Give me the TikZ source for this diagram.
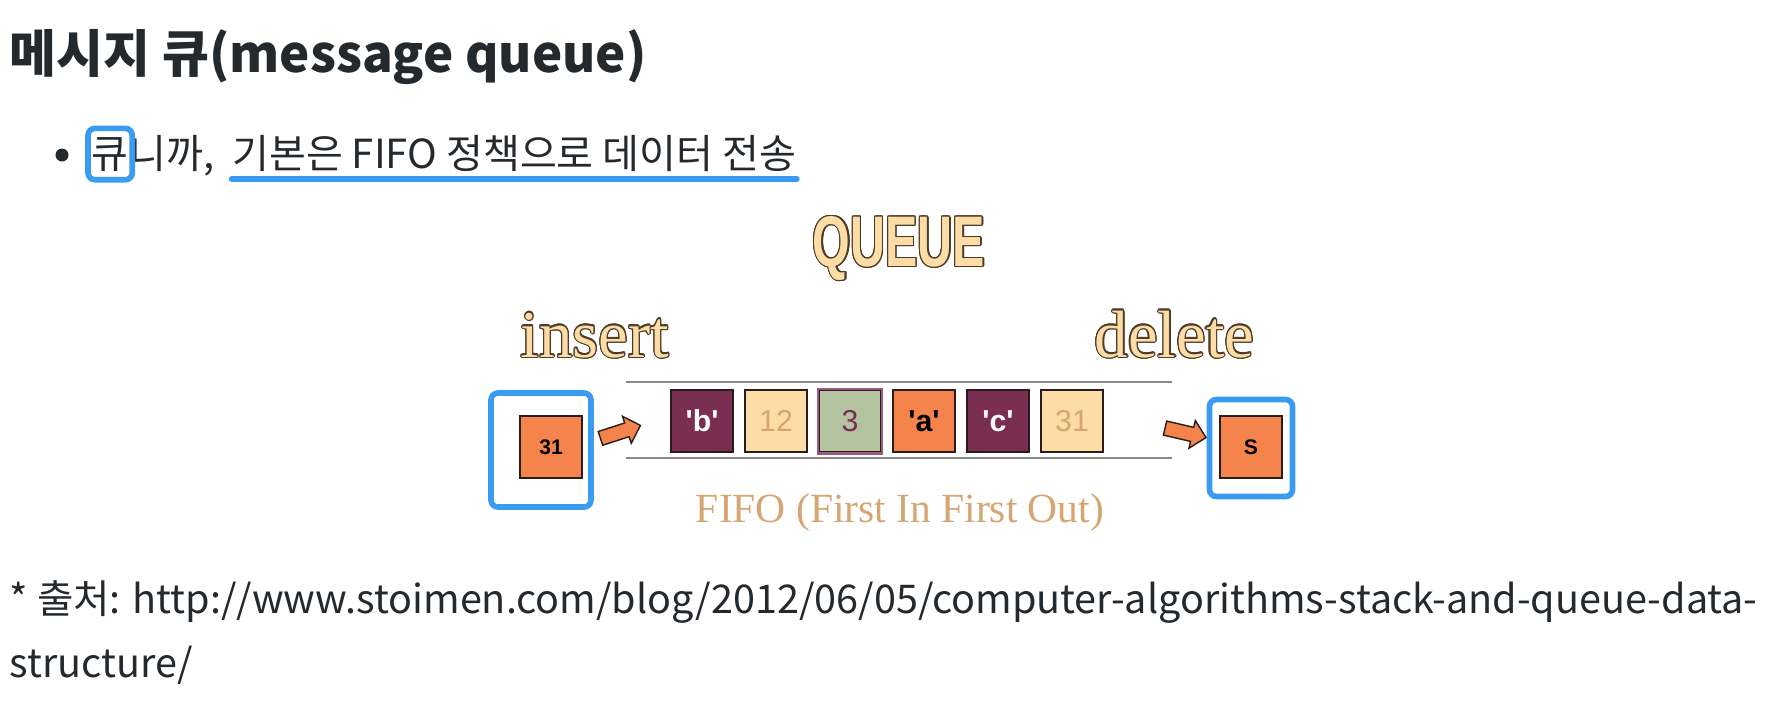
\documentclass[tikz,border=0pt]{standalone}
\usepackage{fontspec}
\setmainfont{Noto Sans CJK KR}
\newfontfamily\serifface{Liberation Serif}
\newfontfamily\cellface{Liberation Sans}
\usepackage{contour}
\usetikzlibrary{positioning,calc,fit,shapes.arrows}
\definecolor{cInk}{HTML}{24292E}
\definecolor{cBlue}{HTML}{3A9BF0}
\definecolor{cOrange}{HTML}{F4844C}
\definecolor{cMaroon}{HTML}{7A2E52}
\definecolor{cCream}{HTML}{FDDCA5}
\definecolor{cTan}{HTML}{D6A571}
\definecolor{cSage}{HTML}{B3C3A0}
\definecolor{cPlum}{HTML}{9C5B7C}
\definecolor{cEdge}{HTML}{2A1C1C}
\definecolor{cRail}{HTML}{8A8A8A}
\definecolor{cBrown}{HTML}{4E3B28}
\contourlength{0.35pt}
\tikzset{
  hilite/.style={draw=cBlue,line width=1.6pt,rounded corners=2pt},
  slot/.style={hilite,inner sep=0pt},
  cell/.style={draw=cEdge,line width=0.7pt,minimum width=0.62cm,minimum height=0.62cm,
              inner sep=0pt,font=\cellface\fontsize{8.6}{9}\selectfont},
  tiny/.style={cell,font=\cellface\bfseries\fontsize{6}{7}\selectfont},
  push/.style={single arrow,draw=cEdge,line width=0.4pt,fill=cOrange,inner xsep=0pt,
              inner ysep=0.065cm,minimum height=0.42cm,single arrow head extend=0.07cm},
  rail/.style={draw=cRail,line width=0.6pt},
  body/.style={anchor=base west,inner sep=0pt,text=cInk,font=\fontsize{11.4}{14}\selectfont},
  fancy/.style={anchor=base,inner sep=0pt,text=cCream,font=\serifface\fontsize{19}{22}\selectfont},
}

\begin{document}
\begin{tikzpicture}[x=0.01cm,y=-0.01cm]
  \useasboundingbox (0,0) rectangle (1776,714);
  % heading and bullet
  \node[body,font=\bfseries\fontsize{14.5}{18}\selectfont] (title) at (9,72) {메시지 큐(message queue)};
  \node[circle,fill=cInk,inner sep=0pt,minimum size=0.13cm] (dot) at (62,155) {};
  \node[body] (kyu) at (91,168) {큐};
  \node[body] (nikka) at (kyu.base east) {니까,};
  \node[body] (rest) at ([xshift=0.16cm]nikka.base east) {기본은 FIFO 정책으로 데이터 전송};
  \node[hilite,fit=(kyu),inner xsep=0.03cm,inner ysep=0.08cm] (kyubox) {};
  \draw[cBlue,line width=1.6pt,line cap=round] ($(rest.base west)+(0,11)$) -- ($(rest.base east)+(0,11)$);
  % the queue picture
  \node[inner sep=0pt,text=cCream] (queue) at (899,249)
    {\contour{cBrown}{\resizebox{1.72cm}{0.5cm}{\cellface\bfseries QUEUE}}};
  \node[fancy,anchor=base west] (ins) at (520,357) {\contour{cBrown}{insert}};
  \node[fancy,anchor=base east] (del) at (1255,357) {\contour{cBrown}{delete}};
  \coordinate (railTL) at (626,382); \coordinate (railTR) at (1172,382);
  \coordinate (railBL) at (626,458); \coordinate (railBR) at (1172,458);
  \draw[rail] (railTL) -- (railTR);
  \draw[rail] (railBL) -- (railBR);
  \foreach \t/\f/\c [count=\i] in {\textbf{'b'}/cMaroon/white,12/cCream/cTan,3/cSage/cMaroon,
                                   \textbf{'a'}/cOrange/black,\textbf{'c'}/cMaroon/white,31/cCream/cTan}
    {\node[cell,fill=\f,text=\c] (c\i) at ({702+74*(\i-1)},421) {\t};}
  \draw[cPlum,line width=0.7pt] (c3.south west) rectangle (c3.north east);
  \node[slot,minimum width=1cm,minimum height=1.14cm] (inslot) at (541,450) {};
  \node[tiny,fill=cOrange,text=black] (new) at (551,447) {31};
  \node[slot,minimum width=0.83cm,minimum height=0.97cm] (outslot) at (1251,448) {};
  \node[tiny,fill=cOrange,text=black] (old) at (1251,447) {S};
  \node[push,rotate=18] (inarrow) at (617,433) {};
  \node[push,rotate=-13] (outarrow) at (1182,432) {};
  \node[anchor=base,inner sep=0pt,text=cTan,font=\serifface\fontsize{11.8}{13}\selectfont]
    (fifo) at (900,522) {FIFO (First In First Out)};
  % source
  \node[body,font=\fontsize{11.25}{14}\selectfont] (src) at (9,613) {* 출처: http://www.stoimen.com/blog/2012/06/05/computer-algorithms-stack-and-queue-data-};
  \node[body,font=\fontsize{11.25}{14}\selectfont] (src2) at (9,677) {structure/};
\end{tikzpicture}
\end{document}
